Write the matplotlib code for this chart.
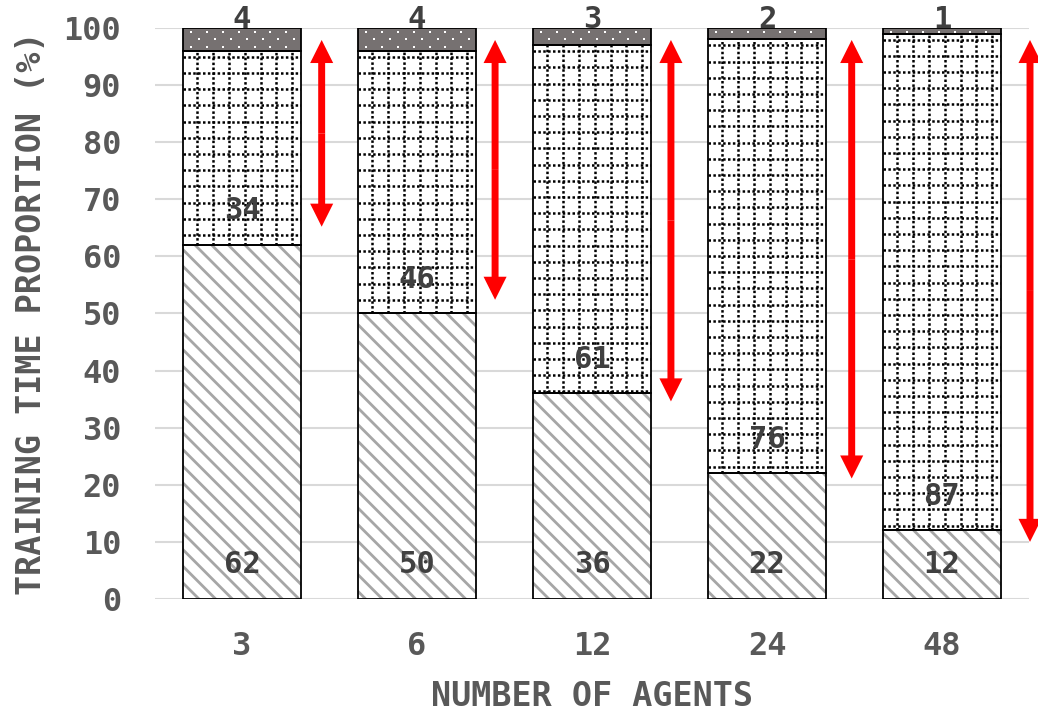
import numpy as np
from matplotlib import pyplot as plt
from matplotlib.patches import FancyArrowPatch, ArrowStyle

plt.rcParams['font.family'] = ['DejaVu Sans Mono', 'DejaVu Sans']
plt.rcParams['font.weight'] = 'bold'
plt.rcParams['hatch.linewidth'] = 2.0

# Training time breakdown per number of agents (%)
agents = ['3', '6', '12', '24', '48']
part_low = [62, 50, 36, 22, 12]
part_mid = [34, 46, 61, 76, 87]
part_top = [4, 4, 3, 2, 1]

# Red double arrows marking the growth of the middle part
arrow_top = [97.9, 97.9, 97.9, 97.9, 97.9]
arrow_bottom = [65.2, 52.4, 34.6, 21.1, 10.0]
arrow_shift = [0.455, 0.446, 0.451, 0.484, 0.503]

text_color = '#595959'
value_color = '#404040'
bar_width = 0.67

fig = plt.figure(figsize=(10.38, 7.12), dpi=100)
ax = fig.add_axes([0.1489, 0.1587, 0.8429, 0.802])
ax.set_xlim(-0.5, 4.5)
ax.set_ylim(0, 100)

# pixel sizes of one data unit, used for the dot patterns
px_x = 0.8429 * 1038 / 5.0
px_y = 0.802 * 712 / 100.0

x = np.arange(len(agents))
low = np.array(part_low)
mid = np.array(part_mid)
top = np.array(part_top)

# bottom part: grey diagonal stripes
ax.bar(x, low, width=bar_width, color='white', edgecolor='#a6a6a6',
       hatch='\\\\', linewidth=0, zorder=2)
# middle part: white with a dotted grid
mid_bars = ax.bar(x, mid, bottom=low, width=bar_width, color='white',
                  linewidth=0, zorder=2)
# top part: dark grey with white dots
top_bars = ax.bar(x, top, bottom=low + mid, width=bar_width, color='#767171',
                  linewidth=0, zorder=2)

for i, patch in enumerate(mid_bars):
    x0 = x[i] - bar_width / 2
    y0 = low[i]
    y1 = low[i] + mid[i]
    xs = np.arange(x0 + 14 / px_x, x0 + bar_width, 15.8 / px_x)
    ys = np.arange(y1 - 6 / px_y, y0, -16.2 / px_y)
    for xv in xs:
        ln, = ax.plot([xv, xv], [y0, y1], color='black', lw=1.8,
                      linestyle=(0, (1, 0.95)), zorder=3)
        ln.set_clip_path(patch)
    for yv in ys:
        ln, = ax.plot([x0, x0 + bar_width], [yv, yv], color='black', lw=1.8,
                      linestyle=(0, (1, 0.95)), zorder=3)
        ln.set_clip_path(patch)

for i, patch in enumerate(top_bars):
    x0 = x[i] - bar_width / 2
    y0 = low[i] + mid[i]
    y1 = 100
    px, py = [], []
    row = 0
    yv = y1 - 4 / px_y
    while yv > y0:
        start = x0 + (8 if row % 2 == 0 else 16) / px_x
        for xv in np.arange(start, x0 + bar_width, 15.8 / px_x):
            px.append(xv)
            py.append(yv)
        yv -= 7.4 / px_y
        row += 1
    sc = ax.scatter(px, py, s=2.5, marker='s', color='white', linewidths=0,
                    zorder=3)
    sc.set_clip_path(patch)

# black outlines around every segment
for bottom, height in [(0, low), (low, mid), (low + mid, top)]:
    ax.bar(x, height, bottom=bottom, width=bar_width, fill=False,
           edgecolor='black', linewidth=1.3, zorder=4)

# value labels: lower two just above their segment base, top one above the bar
for i in range(len(agents)):
    ax.text(x[i], 6, str(low[i]), ha='center', va='center',
            fontsize=22, color=value_color, zorder=5)
    ax.text(x[i], low[i] + 6, str(mid[i]), ha='center', va='center',
            fontsize=22, color=value_color, zorder=5)
    ax.text(x[i], 101.5, str(top[i]), ha='center', va='center',
            fontsize=22, color=value_color, zorder=5, clip_on=False)

# double arrows
for i in range(len(agents)):
    xa = x[i] + arrow_shift[i]
    ym = (arrow_top[i] + arrow_bottom[i]) / 2
    for yend in (arrow_top[i], arrow_bottom[i]):
        arr = FancyArrowPatch((xa, ym), (xa, yend),
                              arrowstyle=ArrowStyle('simple', head_length=1.66,
                                                    head_width=1.66,
                                                    tail_width=0.5),
                              mutation_scale=10, color='red', lw=0,
                              shrinkA=0, shrinkB=0, zorder=6, clip_on=False)
        ax.add_patch(arr)

ax.set_yticks(np.arange(0, 101, 10))
ax.set_xticks(x)
ax.set_xticklabels(agents)
ax.yaxis.grid(True, color='#d9d9d9', linewidth=1.5)
ax.set_axisbelow(True)
for side in ['top', 'right', 'bottom', 'left']:
    ax.spines[side].set_visible(False)
ax.tick_params(axis='both', length=0, labelsize=23, labelcolor=text_color)
ax.tick_params(axis='y', pad=24)
ax.tick_params(axis='x', pad=23)

ax.set_xlabel('NUMBER OF AGENTS', fontsize=24, fontweight='bold',
              color=text_color, labelpad=13)
ax.set_ylabel('TRAINING TIME PROPORTION (%)', fontsize=24, fontweight='bold',
              color=text_color, labelpad=11)

fig.savefig('out.png', dpi=100)
